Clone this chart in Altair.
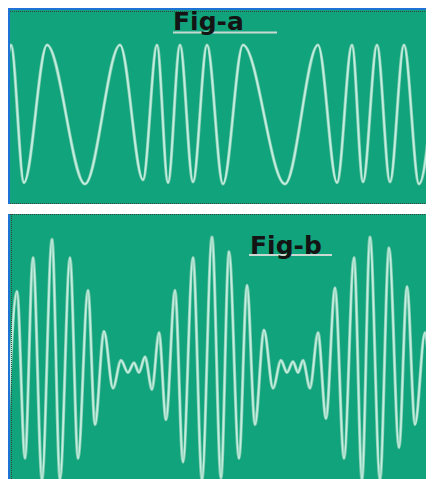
import altair as alt
import pandas as pd

# ---- data (time in screen-like units, amplitude) ----
# Fig-a : frequency-shifted sine, successive peaks / troughs
a_time = [8, 11, 24, 47, 85, 120, 143, 157, 168, 180, 193, 207, 223, 243,
          285, 318, 337, 352, 363, 377, 390, 404, 419, 437]
a_amp = [0.85, 1.0, -0.98, 1.0, -1.0, 1.0, -0.94, 1.0, -0.98, 1.0, -0.97, 1.0,
         -1.0, 1.0, -1.0, 1.0, -0.98, 1.0, -0.97, 1.0, -0.97, 1.0, -1.0, 1.0]

# Fig-b : beat (amplitude-modulated) waveform, successive peaks / troughs
b_time = [8, 17, 25, 33, 42, 52, 60, 70, 78, 88,
          95, 104, 113, 121, 128, 134, 139, 145, 152, 159,
          166, 175, 183, 193, 202, 212, 221, 229, 239, 247,
          255, 264, 273, 281, 287, 293, 298, 303, 310, 318,
          326, 335, 344, 354, 362, 370, 380, 389, 399, 407,
          415, 425, 432, 438]
b_amp = [-0.51, 0.55, -0.83, 0.83, -1.0, 0.98, -1.0, 0.83, -0.83, 0.56,
         -0.55, 0.22, -0.25, -0.02, -0.12, -0.04, -0.12, 0.01, -0.26, 0.21,
         -0.51, 0.56, -0.86, 0.83, -1.0, 1.0, -0.99, 0.88, -0.83, 0.60,
         -0.55, 0.23, -0.25, -0.02, -0.12, -0.03, -0.12, -0.02, -0.25, 0.21,
         -0.50, 0.58, -0.83, 0.83, -1.0, 1.0, -1.0, 0.91, -0.74, 0.59,
         -0.55, 0.21, -0.20, 0.05]

labels = ["Fig-a", "Fig-b"]

# ---- styling ----
GREEN = "#11a47c"
LINE = "#c2f0e0"
HALO = "#86c9b1"
BLUE = "#1f72d6"
DOTS = "#36463f"
W = 418
H_TOP = 196
H_BOT = 265

df_a = pd.DataFrame({"t": a_time, "v": a_amp})
df_b = pd.DataFrame({"t": b_time, "v": b_amp})

xs = alt.Scale(domain=[8, 426], nice=False, zero=False)
ys_a = alt.Scale(domain=[-1.288, 1.532], nice=False, zero=False)
ys_b = alt.Scale(domain=[-1.0, 1.19], nice=False, zero=False)


def wave(df, ys):
    enc = dict(x=alt.X("t:Q", scale=xs, axis=None),
               y=alt.Y("v:Q", scale=ys, axis=None),
               order="t:Q")
    halo = alt.Chart(df).mark_line(interpolate="monotone", color=HALO,
                                   strokeWidth=3.2, clip=True).encode(**enc)
    core = alt.Chart(df).mark_line(interpolate="monotone", color=LINE,
                                   strokeWidth=1.7, clip=True).encode(**enc)
    return halo + core


def hrule(df, y, x0, x1, color, width, dash=None):
    kw = dict(color=color, strokeWidth=width, clip=True)
    if dash:
        kw["strokeDash"] = dash
    return alt.Chart(df).mark_rule(**kw).encode(
        x=alt.value(x0), x2=alt.value(x1), y=alt.value(y))


def vrule(df, x, y0, y1, color, width, dash=None):
    kw = dict(color=color, strokeWidth=width, clip=True)
    if dash:
        kw["strokeDash"] = dash
    return alt.Chart(df).mark_rule(**kw).encode(
        x=alt.value(x), y=alt.value(y0), y2=alt.value(y1))


def label(df, text, x, y):
    return alt.Chart(df).mark_text(
        text=text, align="left", baseline="alphabetic", font="DejaVu Sans",
        fontWeight="bold", fontSize=25, color="#141414"
    ).encode(x=alt.value(x), y=alt.value(y))


one = pd.DataFrame({"k": [0]})

top = alt.layer(
    wave(df_a, ys_a),
    hrule(one, 3.5, 2, W, DOTS, 1, [1, 1]),
    hrule(one, 195.5, 2, W, DOTS, 1, [1, 1]),
    hrule(one, 24.5, 165, 269, "#c9d8d1", 2),
    label(one, labels[0], 165, 22),
    hrule(one, 1, 0, W, BLUE, 2),
    vrule(one, 1, 0, H_TOP, BLUE, 2),
).properties(width=W, height=H_TOP)

bottom = alt.layer(
    wave(df_b, ys_b),
    hrule(one, 0.5, 2, W, DOTS, 1, [1, 1]),
    vrule(one, 3.5, 0, H_BOT, DOTS, 1, [1, 1]),
    hrule(one, 41, 241, 324, "#c9d8d1", 2),
    label(one, labels[1], 242, 40),
    vrule(one, 1, 0, H_BOT, BLUE, 2),
).properties(width=W, height=H_BOT)

chart = alt.vconcat(top, bottom, spacing=10).properties(
    padding=0, background="white"
).configure_view(fill=GREEN, strokeWidth=0)

chart.save("out.html", embed_options={"renderer": "svg", "actions": False})
